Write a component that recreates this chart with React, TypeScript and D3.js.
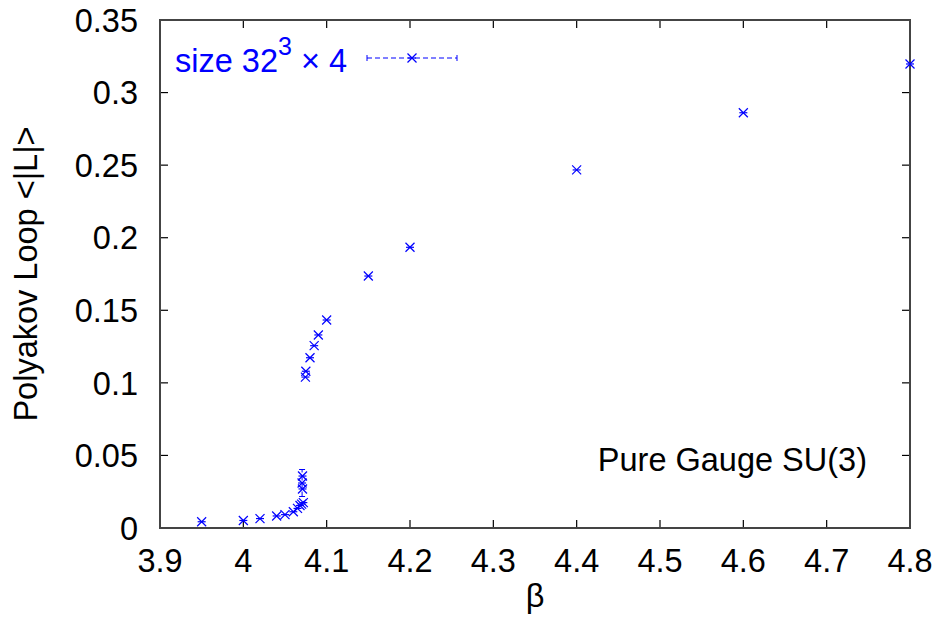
import React from "react";
import * as d3 from "d3";

const betaValues = [3.95, 4.0, 4.02, 4.04, 4.05, 4.06, 4.065, 4.068, 4.07, 4.072, 4.071, 4.0705, 4.071,
  4.0745, 4.075, 4.08, 4.085, 4.09, 4.1, 4.15, 4.2, 4.4, 4.6, 4.8];
const loopValues = [0.0043, 0.0052, 0.0065, 0.0083, 0.0092, 0.0112, 0.0135, 0.0155, 0.0165, 0.0175, 0.0269, 0.031, 0.0358,
  0.104, 0.108, 0.1173, 0.1256, 0.133, 0.1433, 0.1736, 0.1934, 0.2467, 0.2861, 0.3197];
const loopErrors = [0, 0, 0, 0, 0, 0, 0, 0, 0, 0, 0, 0.0093, 0,
  0, 0, 0, 0, 0, 0, 0, 0, 0, 0, 0];
const xTicks = [3.9, 4.0, 4.1, 4.2, 4.3, 4.4, 4.5, 4.6, 4.7, 4.8];
const yTicks = [0, 0.05, 0.1, 0.15, 0.2, 0.25, 0.3, 0.35];
const legendLabel = "size 32";
const annotation = "Pure Gauge SU(3)";
const xTitle = "β";
const yTitle = "Polyakov Loop <|L|>";

const W = 936, H = 631;
const L = 160, R = 910, T = 20, B = 528;
const FONT = "'Liberation Sans', Arial, Helvetica, sans-serif";
const BLUE = "#0000ff";
const FS = 32.5;

export default function App() {
  const x = d3.scaleLinear().domain([3.9, 4.8]).range([L, R]);
  const y = d3.scaleLinear().domain([0, 0.35]).range([B, T]);
  const fmt = (v: number) => d3.format("")(+v.toFixed(2));
  const tl = 8;
  const cross = (cx: number, cy: number, k: string) => (
    <g key={k} stroke={BLUE} strokeWidth={1.2}>
      <line x1={cx - 4.5} y1={cy - 4.5} x2={cx + 4.5} y2={cy + 4.5} />
      <line x1={cx - 4.5} y1={cy + 4.5} x2={cx + 4.5} y2={cy - 4.5} />
      <line x1={cx - 4} y1={cy} x2={cx + 4} y2={cy} />
    </g>
  );
  const legX1 = 367, legX2 = 457, legY = 58;
  return (
    <svg width={W} height={H} style={{ position: "absolute", left: 0, top: 0, background: "#fff" }} fontFamily={FONT}>
      <rect x={0} y={0} width={W} height={H} fill="#fff" />
      {/* ticks */}
      <g stroke="#000" strokeWidth={1.2}>
        {xTicks.map((t, i) => (
          <g key={"xt" + i}>
            <line x1={x(t)} x2={x(t)} y1={B} y2={B - tl} />
            <line x1={x(t)} x2={x(t)} y1={T} y2={T + tl} />
          </g>
        ))}
        {yTicks.map((t, i) => (
          <g key={"yt" + i}>
            <line x1={L} x2={L + tl} y1={y(t)} y2={y(t)} />
            <line x1={R} x2={R - tl} y1={y(t)} y2={y(t)} />
          </g>
        ))}
      </g>
      <rect x={L} y={T} width={R - L} height={B - T} fill="none" stroke="#444" strokeWidth={2} />
      {/* tick labels */}
      <g fontSize={FS} fill="#000">
        {xTicks.map((t, i) => (
          <text key={"xl" + i} x={x(t)} y={572} textAnchor="middle">{fmt(t)}</text>
        ))}
        {yTicks.map((t, i) => (
          <text key={"yl" + i} x={138} y={y(t)} dy="0.36em" textAnchor="end">{fmt(t)}</text>
        ))}
      </g>
      <text x={(L + R) / 2} y={607} textAnchor="middle" fontSize={FS}>{xTitle}</text>
      <text transform={`translate(37,${(T + B) / 2}) rotate(-90)`} textAnchor="middle" fontSize={FS}>{yTitle}</text>
      <text x={867} y={471} textAnchor="end" fontSize={FS}>{annotation}</text>
      {/* legend */}
      <text x={175} y={72} fontSize={FS} fill={BLUE}>
        {legendLabel}
        <tspan fontSize={25} dy={-17}>3</tspan>
        <tspan dy={17}> × 4</tspan>
      </text>
      <g stroke={BLUE} strokeWidth={1}>
        <line x1={legX1} x2={legX2} y1={legY} y2={legY} strokeDasharray="5,3" />
        <line x1={legX1} x2={legX1} y1={legY - 3} y2={legY + 3} />
        <line x1={legX2} x2={legX2} y1={legY - 3} y2={legY + 3} />
      </g>
      {cross((legX1 + legX2) / 2, legY, "leg")}
      {/* error bars */}
      <g stroke={BLUE} strokeWidth={1}>
        {betaValues.map((b, i) =>
          loopErrors[i] > 0 ? (
            <g key={"e" + i}>
              <line x1={x(b)} x2={x(b)} y1={y(loopValues[i] - loopErrors[i])} y2={y(loopValues[i] + loopErrors[i])} strokeDasharray="5,3" />
              <line x1={x(b) - 3} x2={x(b) + 3} y1={y(loopValues[i] - loopErrors[i])} y2={y(loopValues[i] - loopErrors[i])} />
              <line x1={x(b) - 3} x2={x(b) + 3} y1={y(loopValues[i] + loopErrors[i])} y2={y(loopValues[i] + loopErrors[i])} />
            </g>
          ) : null
        )}
      </g>
      {betaValues.map((b, i) => cross(x(b), y(loopValues[i]), "p" + i))}
    </svg>
  );
}
